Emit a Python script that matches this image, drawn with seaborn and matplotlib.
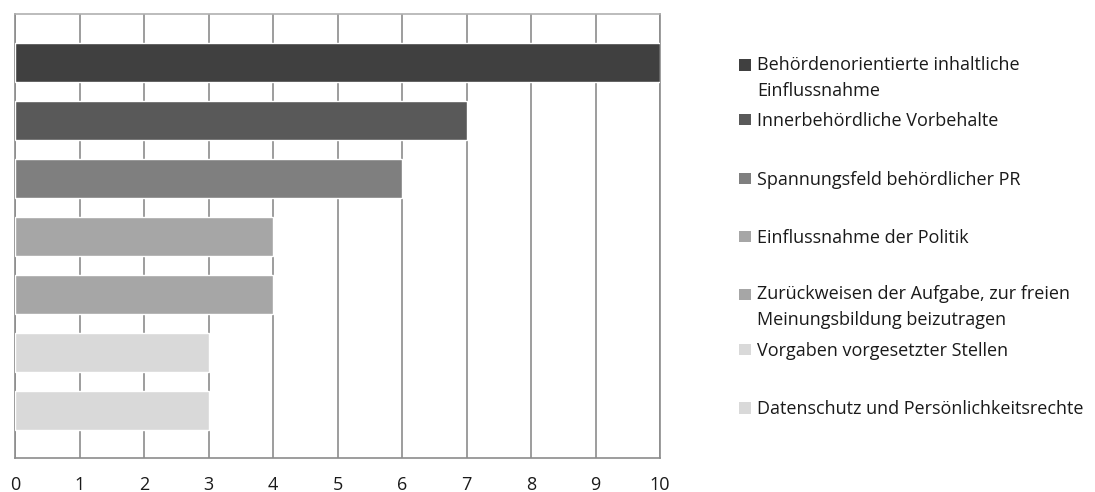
import matplotlib
matplotlib.use("Agg")
import matplotlib.pyplot as plt
from matplotlib.patches import Rectangle
import seaborn as sns
import pandas as pd

categories = [
    "Behördenorientierte inhaltliche\nEinflussnahme",
    "Innerbehördliche Vorbehalte",
    "Spannungsfeld behördlicher PR",
    "Einflussnahme der Politik",
    "Zurückweisen der Aufgabe, zur freien\nMeinungsbildung beizutragen",
    "Vorgaben vorgesetzter Stellen",
    "Datenschutz und Persönlichkeitsrechte",
]
values = [10, 7, 6, 4, 4, 3, 3]
colors = ["#404040", "#595959", "#7f7f7f", "#a6a6a6", "#a6a6a6", "#d9d9d9", "#d9d9d9"]
x_ticks = list(range(0, 11))

# vertical centre (pixels from top) of the first text line of each legend entry
legend_rows_px = [65, 119.5, 178.5, 236.5, 294.5, 349.5, 408]
LINE_STEP_PX = 24.5

sns.set_theme(style="white")
plt.rcParams["font.family"] = ["Open Sans", "DejaVu Sans"]
FS = 13
TXT = "#1a1a1a"

df = pd.DataFrame({"kategorie": categories, "wert": values})

W, H = 1095, 492
fig = plt.figure(figsize=(W / 100, H / 100), dpi=100)
ax = fig.add_axes([15 / W, 1 - 458 / H, (660 - 15) / W, (458 - 14) / H])

sns.barplot(data=df, x="wert", y="kategorie", hue="kategorie",
            palette=dict(zip(categories, colors)), width=0.672,
            saturation=1, legend=False, ax=ax, zorder=3)

ax.set_xlim(0, 10)
ax.set_ylim(6 + 0.82, -0.84)
ax.set_xticks(x_ticks)
ax.set_xticklabels([str(t) for t in x_ticks], fontsize=FS, color=TXT)
ax.set_yticks([])
ax.set_xlabel("")
ax.set_ylabel("")
ax.tick_params(axis="x", length=0, pad=13)
ax.grid(axis="x", color="#8c8c8c", linewidth=1.2, zorder=0)
ax.set_axisbelow(True)
for name, sp in ax.spines.items():
    sp.set_visible(True)
    sp.set_color("#8c8c8c")
    sp.set_linewidth(1.2)
ax.spines["top"].set_color("#b0b0b0")

# legend: colour square plus label, one row per category
cap_half = 0.714 * FS * 100 / 72 / 2
for lab, col, ypx in zip(categories, colors, legend_rows_px):
    extra = (lab.count("\n")) * LINE_STEP_PX
    fig.text(757 / W, 1 - (ypx + cap_half + extra) / H, lab, fontsize=FS, color=TXT,
             va="baseline", ha="left", linespacing=1.57)
    fig.patches.append(Rectangle((739 / W, 1 - (ypx + 5.5) / H), 12 / W, 11.5 / H,
                                 transform=fig.transFigure, facecolor=col,
                                 edgecolor="none"))

fig.savefig("out.png", dpi=100)
